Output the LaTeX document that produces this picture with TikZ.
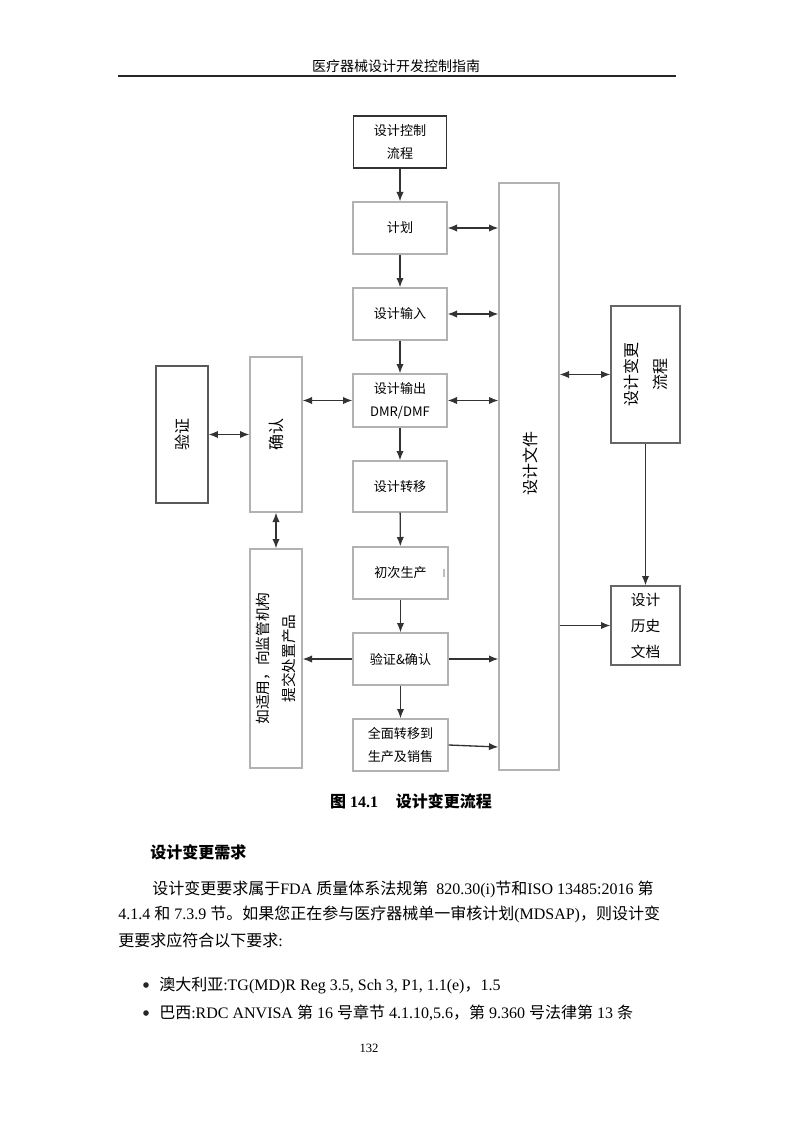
\documentclass[tikz,border=0pt]{standalone}
\usepackage{fontspec}
\setmainfont{Liberation Serif}
\newfontfamily\cjk{Noto Sans CJK SC}
\usetikzlibrary{arrows.meta}
\begin{document}
\begin{tikzpicture}[x=0.75pt,y=-0.75pt,
  bx/.style={rectangle, inner sep=0pt, align=center, line width=1pt},
  sz/.style 2 args={minimum width=#1*0.75pt, minimum height=#2*0.75pt},
  lite/.style={draw=black!30},
  mid/.style={draw=black!60},
  dark/.style={draw=black!80},
  ctext/.style={font=\cjk\fontsize{9.8}{17.5}\selectfont},
  rtext/.style={font=\cjk\fontsize{12}{22}\selectfont, rotate=90},
  arr/.style={draw=black!80, line width=1pt, -{Latex[length=7pt,width=5.5pt]}},
  darr/.style={draw=black!80, line width=1pt, {Latex[length=7pt,width=5.5pt]}-{Latex[length=7pt,width=5.5pt]}},
  body/.style={anchor=west, inner sep=0pt, font=\fontsize{12}{14}\selectfont},
  bul/.style={circle, fill=black!85, inner sep=0pt, minimum size=4.2pt},
]
\useasboundingbox (0,0) rectangle (794,1123);
\fill[white] (0,0) rectangle (794,1123);

% header
\node[inner sep=0pt, font=\cjk\fontsize{10.5}{12}\selectfont] (hdr) at (396,66) {医疗器械设计开发控制指南};
\draw[line width=0.8pt, black!85] (118,76) -- (676,76);

% centre column
\node[bx, dark, ctext, sz={93}{52}] (ctrl) at (400,142) {设计控制\\流程};
\node[bx, lite, ctext, sz={94}{52}] (plan) at (400,228) {计划};
\node[bx, lite, ctext, sz={94}{52}] (input) at (400,314) {设计输入};
\node[bx, lite, ctext, sz={94}{53}] (output) at (400,400.5) {设计输出\\DMR/DMF};
\node[bx, lite, ctext, sz={94}{51}] (transfer) at (400,486.5) {设计转移};
\node[bx, lite, ctext, sz={95}{52}] (prod) at (400.5,573) {初次生产};
\node[bx, lite, ctext, sz={95}{52}] (vv) at (400.5,659) {验证\&确认};
\node[bx, lite, ctext, sz={95}{52}] (full) at (400.5,745) {全面转移到\\生产及销售};
\draw[black!25, line width=0.8pt] (444,569) -- (444,577);

% design file column
\node[bx, lite, sz={60}{587}] (docs) at (529,476.5) {};
\node[rtext, inner sep=0pt] (docstext) at (530,463) {设计文件};

% right boxes (rotated: width runs vertically on the page)
\node[bx, mid, sz={137}{69}, rotate=90, font=\cjk\fontsize{12}{22}\selectfont] (change) at (645.5,374.5) {设计变更\\流程};
\node[bx, mid, sz={69}{79}, font=\cjk\fontsize{11}{19.5}\selectfont] (hist) at (645.5,625.5) {设计\\历史\\文档};

% left boxes (rotated)
\node[bx, draw=black!65, line width=0.9pt, sz={137}{52}, rotate=90, font=\cjk\fontsize{12}{14}\selectfont] (verify) at (182,434.5) {验证};
\node[bx, lite, sz={155}{52}, rotate=90, font=\cjk\fontsize{12}{14}\selectfont] (confirm) at (276,434.5) {确认};
\node[bx, lite, sz={219}{52}, rotate=90, font=\cjk\fontsize{11}{19}\selectfont] (reg) at (276,658.5) {如适用，向监管机构\\提交处置产品};

% vertical flow
\draw[arr] (ctrl) -- (plan);
\draw[arr] (plan) -- (input);
\draw[arr] (input) -- (output);
\draw[arr] (output) -- (transfer);
\draw[arr] (transfer) -- (prod);
\draw[arr] (prod) -- (vv);
\draw[arr] (vv) -- (full);

% to design file
\draw[darr] (plan.east) -- (plan.east -| docs.west);
\draw[darr] (input.east) -- (input.east -| docs.west);
\draw[darr] (output.east) -- (output.east -| docs.west);
\draw[arr] (vv.east) -- (vv.east -| docs.west);
\coordinate (fullend) at ([yshift=-1.5pt]full.east -| docs.west);
\draw[arr] (full.east) -- (fullend);

% right side
\draw[darr] (docs.east |- change.center) -- (change.north |- change.center);
\draw[arr] (change.west) -- (hist.north);
\draw[arr] (docs.east |- hist.west) -- (hist.west);

% left side
\draw[darr] (output.west) -- (output.west -| confirm.south);
\draw[darr] (verify.south) -- (verify.south -| confirm.north);
\draw[darr] (confirm.west) -- (reg.east);
\draw[arr] (vv.west) -- (vv.west -| reg.south);

% caption and text
\node[inner sep=0pt, font=\fontsize{12}{14}\selectfont\bfseries] (cap) at (411,801) {{\cjk\bfseries 图} 14.1\hspace{1.1em}{\cjk\bfseries 设计变更流程}};
\node[body, font=\cjk\fontsize{12}{14}\selectfont\bfseries] (sec) at (150,852) {设计变更需求};
\node[body] (l1) at (152,889) {{\cjk 设计变更要求属于}FDA {\cjk 质量体系法规第}\ \ 820.30(i){\cjk 节和}ISO 13485:2016 {\cjk 第}};
\node[body] (l2) at (118,914) {4.1.4 {\cjk 和} 7.3.9 {\cjk 节。如果您正在参与医疗器械单一审核计划}(MDSAP){\cjk ，则设计变}};
\node[body] (l3) at (118,940) {{\cjk 更要求应符合以下要求}:};
\node[bul] (b1) at (146,985) {};
\node[body] (t1) at (159,985) {{\cjk 澳大利亚}:TG(MD)R Reg 3.5, Sch 3, P1, 1.1(e){\cjk ，}1.5};
\node[bul] (b2) at (146,1013) {};
\node[body] (t2) at (159,1013) {{\cjk 巴西}:RDC ANVISA {\cjk 第} 16 {\cjk 号章节} 4.1.10,5.6{\cjk ，第} 9.360 {\cjk 号法律第} 13 {\cjk 条}};
\node[inner sep=0pt, font=\fontsize{9.5}{11}\selectfont] (pg) at (369,1048) {132};
\end{tikzpicture}
\end{document}
